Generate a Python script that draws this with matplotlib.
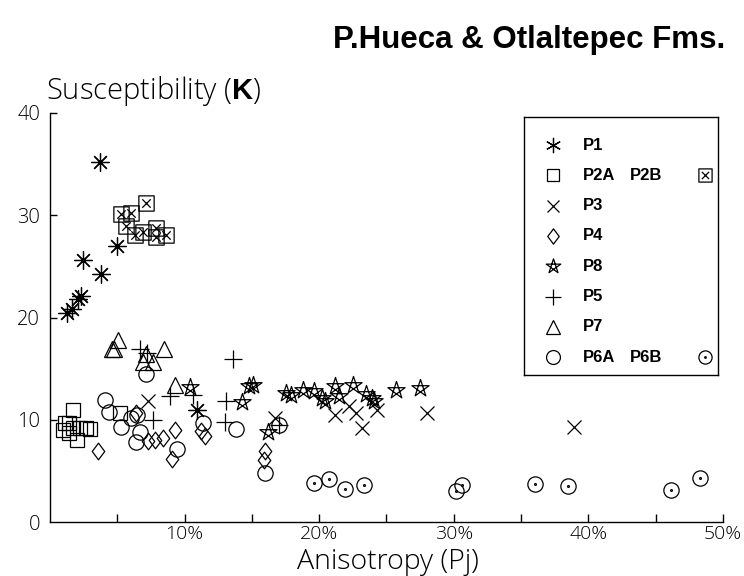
import numpy as np
import matplotlib
matplotlib.use("Agg")
import matplotlib.pyplot as plt
from matplotlib.path import Path

# ---- data: anisotropy Pj (%) and susceptibility K per site ----
p1_x = [1.3, 1.6, 2.1, 2.3, 2.45, 3.8, 3.7, 5.0, 10.9]
p1_y = [20.4, 20.8, 21.8, 22.1, 25.6, 24.3, 35.2, 27.0, 11.0]

p2a_x = [1.7, 1.1, 1.4, 1.0, 1.7, 2.2, 2.7, 2.0, 1.4, 3.0, 5.2]
p2a_y = [11.0, 9.7, 9.7, 9.0, 9.2, 9.2, 9.2, 8.0, 8.7, 9.1, 10.7]

p2b_x = [7.16, 5.31, 6.05, 5.68, 6.30, 6.91, 7.85, 7.90, 8.64]
p2b_y = [31.2, 30.1, 30.2, 28.9, 28.1, 28.4, 28.8, 27.9, 28.1]

p3_x = [7.3, 16.7, 21.2, 22.2, 22.7, 23.2, 24.3, 28.0, 38.9]
p3_y = [11.8, 10.2, 10.5, 11.3, 10.7, 9.2, 11.0, 10.7, 9.3]

p4_x = [3.6, 6.4, 7.3, 7.8, 8.4, 9.3, 9.1, 11.2, 11.5, 16.0, 15.9]
p4_y = [6.9, 10.7, 7.9, 8.0, 8.2, 9.0, 6.2, 8.9, 8.4, 6.9, 6.1]

p8_x = [10.4, 14.3, 14.8, 15.1, 16.2, 17.5, 17.9, 18.8, 19.6, 20.2, 20.4,
        21.2, 21.5, 22.5, 23.5, 23.9, 24.1, 25.7, 27.5]
p8_y = [13.2, 11.7, 13.3, 13.4, 8.8, 12.6, 12.4, 12.9, 12.8, 12.1, 11.8,
        13.3, 12.3, 13.4, 12.5, 12.1, 11.8, 12.9, 13.1]

p5_x = [6.7, 7.2, 8.9, 7.65, 10.6, 13.1, 13.0, 13.6, 17.0]
p5_y = [16.9, 16.5, 12.3, 10.0, 12.4, 11.8, 9.8, 15.9, 9.5]

p7_x = [5.06, 4.57, 4.75, 8.5, 7.16, 6.9, 7.65, 9.26]
p7_y = [17.8, 16.9, 16.9, 16.9, 16.4, 15.6, 15.6, 13.4]

p6a_x = [4.1, 4.4, 5.3, 6.05, 6.5, 6.7, 6.4, 7.1, 9.4, 11.4, 13.8, 16.0, 17.0]
p6a_y = [11.9, 10.8, 9.3, 10.2, 10.5, 8.8, 7.8, 14.5, 7.1, 9.7, 9.1, 4.8, 9.5]

p6b_x = [19.6, 20.7, 21.9, 23.3, 30.6, 30.2, 36.0, 38.5, 46.1, 48.3]
p6b_y = [3.8, 4.2, 3.2, 3.6, 3.6, 3.0, 3.7, 3.5, 3.1, 4.3]

x_ticks = [5, 10, 15, 20, 25, 30, 35, 40, 45, 50]
x_ticklabels = ["", "10%", "", "20%", "", "30%", "", "40%", "", "50%"]
y_ticks = [0, 10, 20, 30, 40]

# ---- custom marker shapes ----
ang = np.pi / 2 + np.arange(5) * 2 * np.pi / 5
pts = np.c_[np.cos(ang), np.sin(ang)]
pentagram = Path(pts[[0, 2, 4, 1, 3, 0]],
                 [Path.MOVETO] + [Path.LINETO] * 4 + [Path.CLOSEPOLY])

d = 0.55
boxed_x = Path(
    [(-1, -1), (1, -1), (1, 1), (-1, 1), (-1, -1),
     (-d, -d), (d, d), (-d, d), (d, -d)],
    [Path.MOVETO, Path.LINETO, Path.LINETO, Path.LINETO, Path.CLOSEPOLY,
     Path.MOVETO, Path.LINETO, Path.MOVETO, Path.LINETO])

diamond = Path([(0, 1), (0.75, 0), (0, -1), (-0.75, 0), (0, 1)],
               [Path.MOVETO, Path.LINETO, Path.LINETO, Path.LINETO, Path.CLOSEPOLY])

dotted_circle = Path.make_compound_path(Path.unit_circle(),
                                        Path.circle((0, 0), 0.12))

asterisk = (8, 2, 0)

plt.rcParams["font.family"] = ["Open Sans", "DejaVu Sans"]
plt.rcParams["mathtext.fontset"] = "custom"
plt.rcParams["mathtext.rm"] = "Open Sans:light"
plt.rcParams["mathtext.bf"] = "Liberation Sans:bold"

fig = plt.figure(figsize=(7.44, 5.76), dpi=100)
ax = fig.add_axes([50 / 744, 1 - 522 / 576, 673 / 744, 409 / 576])

lw = 0.9
style = dict(linestyle="none", mfc="none", mec="black", mew=lw, color="black",
             clip_on=False)

series = [
    (p1_x, p1_y, asterisk, 13),
    (p2a_x, p2a_y, "s", 9.5),
    (p2b_x, p2b_y, boxed_x, 11),
    (p3_x, p3_y, "x", 10),
    (p4_x, p4_y, diamond, 12),
    (p8_x, p8_y, pentagram, 13),
    (p5_x, p5_y, "+", 13),
    (p7_x, p7_y, "^", 12),
    (p6a_x, p6a_y, "o", 11),
    (p6b_x, p6b_y, dotted_circle, 11),
]
for xs, ys, mk, ms in series:
    ax.plot(xs, ys, marker=mk, ms=ms, **style)

ax.set_xlim(0, 50)
ax.set_ylim(0, 40)
for s in ("top", "right"):
    ax.spines[s].set_visible(False)
for s in ("left", "bottom"):
    ax.spines[s].set_linewidth(1.0)

ax.set_xticks(x_ticks)
ax.set_xticklabels(x_ticklabels)
ax.set_yticks(y_ticks)
ax.tick_params(axis="x", direction="in", length=6, width=1.0, pad=2,
               labelsize=14)
ax.tick_params(axis="y", direction="in", length=5, width=1.0, pad=7,
               labelsize=14.5)
for lab in ax.get_xticklabels() + ax.get_yticklabels():
    lab.set_fontweight("light")
ax.yaxis.get_major_ticks()[0].tick1line.set_visible(False)

fig.text(388 / 744, 1 - 569 / 576, "Anisotropy (Pj)", fontsize=20.5,
         fontweight="light", ha="center", va="baseline")
fig.text(46 / 744, 1 - 99 / 576, r"Susceptibility ($\mathbf{K}$)",
         fontsize=21, fontweight="light", ha="left", va="baseline")

fig.text(725 / 744, 1 - 40 / 576, "P.Hueca & Otlaltepec Fms.",
         family="Liberation Sans", fontweight="bold", fontsize=22.5,
         ha="right", va="center")

# ---- key box ----
lg = fig.add_axes([524 / 744, 1 - 375 / 576, 194 / 744, 258 / 576])
lg.set_xlim(0, 194)
lg.set_ylim(258, 0)
lg.set_xticks([])
lg.set_yticks([])
for s in lg.spines.values():
    s.set_linewidth(1.0)

rows = [
    ("P1", (6, 2, 0), 11, None, None),
    ("P2A", "s", 8, "P2B", boxed_x),
    ("P3", "x", 9, None, None),
    ("P4", diamond, 11, None, None),
    ("P8", pentagram, 11, None, None),
    ("P5", "+", 11, None, None),
    ("P7", "^", 10, None, None),
    ("P6A", "o", 10, "P6B", dotted_circle),
]
for i, (lab, mk, ms, lab2, mk2) in enumerate(rows):
    yy = 28 + i * 30.3
    lg.plot([29], [yy], marker=mk, ms=ms, **style)
    lg.text(59, yy, lab, family="Liberation Sans", fontweight="bold",
            fontsize=12, ha="left", va="center")
    if lab2:
        lg.text(106, yy, lab2, family="Liberation Sans", fontweight="bold",
                fontsize=12, ha="left", va="center")
        lg.plot([181], [yy], marker=mk2, ms=9.5, **style)

fig.savefig("out.png", dpi=100)
